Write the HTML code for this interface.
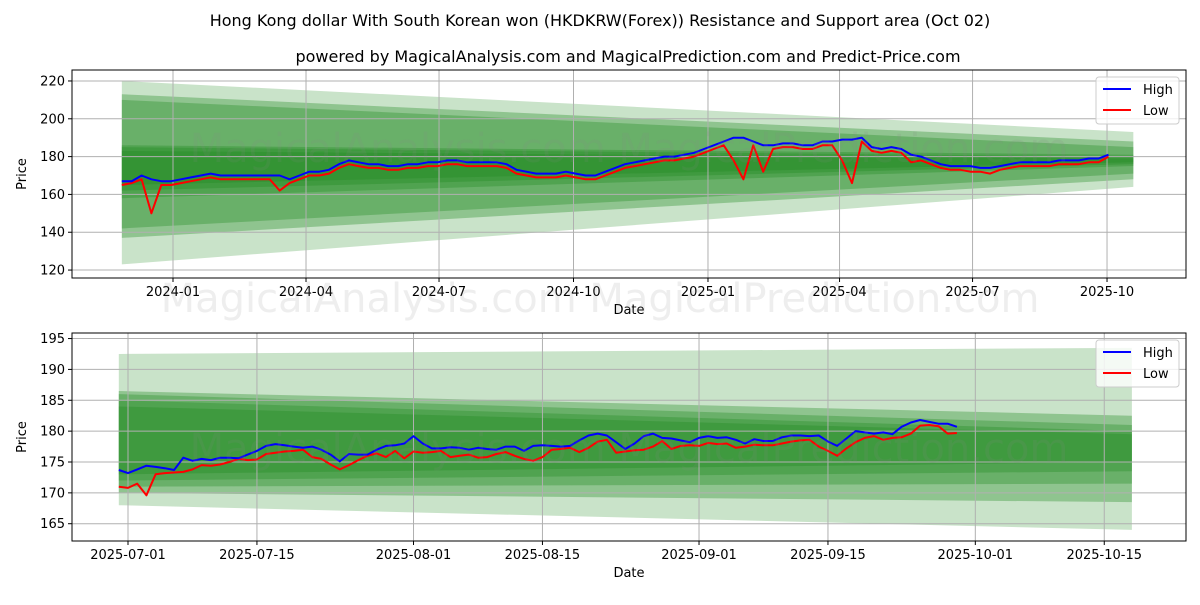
<!DOCTYPE html>
<html><head><meta charset="utf-8"><style>
body{margin:0;background:#fff;font-family:"Liberation Sans","DejaVu Sans",sans-serif}
svg text{font-family:"DejaVu Sans","Liberation Sans",sans-serif}
</style></head><body>
<svg id="c" width="1200" height="600" xmlns="http://www.w3.org/2000/svg">
<text x="600" y="26" text-anchor="middle" font-size="16">Hong Kong dollar With South Korean won (HKDKRW(Forex)) Resistance and Support area (Oct 02)</text>
<text x="628" y="62" text-anchor="middle" font-size="16">powered by MagicalAnalysis.com and MagicalPrediction.com and Predict-Price.com</text>
</svg>
<script>
const topStart=Date.UTC(2023,10,27), topStepDays=6.75;
const topHigh=[167,167,170,168,167,167,168,169,170,171,170,170,170,170,170,170,170,168,170,172,172,173,176,178,177,176,176,175,175,176,176,177,177,178,178,177,177,177,177,176,173,172,171,171,171,172,171,170,170,172,174,176,177,178,179,180,180,181,182,184,186,188,190,190,188,186,186,187,187,186,186,188,188,189,189,190,185,184,185,184,181,180,178,176,175,175,175,174,174,175,176,177,177,177,177,178,178,178,179,179,181];
const topLow=[165,166,168,150,165,165,166,167,168,169,168,168,168,168,168,168,162,166,168,170,170,171,174,176,175,174,174,173,173,174,174,175,175,176,176,175,175,175,175,174,171,170,169,169,169,170,169,168,168,170,172,174,175,176,177,178,178,179,180,182,184,186,178,168,186,172,184,185,185,184,184,186,186,178,166,188,183,182,183,182,177,178,176,174,173,173,172,172,171,173,174,175,175,175,175,176,176,176,177,177,180];
const topYTicks=[120,140,160,180,200,220];
const topXTicks=["2024-01","2024-04","2024-07","2024-10","2025-01","2025-04","2025-07","2025-10"];
const topBands=[[220,123,193,164],[213,137,188,168],[210,142,185,171],[186,158,181,175],[185,162,180,176],[183,165,179,177]];
const botStart=Date.UTC(2025,5,30);
const botHigh=[173.7,173.2,173.8,174.4,174.2,174.0,173.7,175.7,175.2,175.5,175.3,175.7,175.7,175.6,176.2,176.8,177.6,177.9,177.7,177.5,177.3,177.5,177.0,176.2,175.1,176.3,176.2,176.2,177.0,177.6,177.7,178.0,179.2,178.0,177.2,177.2,177.4,177.3,177.0,177.3,177.1,177.0,177.5,177.5,176.8,177.6,177.7,177.6,177.5,177.6,178.5,179.3,179.6,179.3,178.2,177.1,178.0,179.2,179.6,178.9,178.8,178.5,178.2,178.9,179.2,178.9,179.0,178.6,178.0,178.7,178.4,178.4,179.0,179.3,179.3,179.2,179.3,178.3,177.6,178.8,180.0,179.8,179.6,179.8,179.5,180.7,181.4,181.8,181.5,181.2,181.2,180.7];
const botLow=[171.0,170.8,171.5,169.6,173.0,173.2,173.3,173.4,173.8,174.5,174.4,174.6,175.0,175.5,175.3,175.4,176.3,176.5,176.7,176.8,177.0,175.8,175.5,174.6,173.8,174.5,175.3,176.0,176.4,175.8,176.8,175.6,176.7,176.5,176.6,176.8,175.8,176.0,176.2,175.7,175.8,176.3,176.6,176.0,175.5,175.2,175.8,177.0,177.1,177.3,176.6,177.3,178.3,178.6,176.5,176.7,176.9,177.0,177.5,178.4,177.1,177.6,177.7,177.6,178.1,177.9,178.0,177.3,177.5,177.8,177.7,177.7,178.0,178.3,178.5,178.6,177.5,176.8,176.0,177.2,178.2,178.9,179.2,178.6,178.9,179.0,179.6,180.9,181.0,180.8,179.6,179.7];
const botYTicks=[165,170,175,180,185,190,195];
const botXTicks=["2025-07-01","2025-07-15","2025-08-01","2025-08-15","2025-09-01","2025-09-15","2025-10-01","2025-10-15"];
const botBands=[[192.5,168,193.5,164],[186.5,170,182.5,168.5],[186,171,181,171.5],[185,172,180,173.5],[184,173,179.5,175]];

const NS="http://www.w3.org/2000/svg", svg=document.getElementById('c');
function mk(t,a,p){const e=document.createElementNS(NS,t);for(const k in a)e.setAttribute(k,a[k]);(p||svg).appendChild(e);return e;}
const DAY=86400000;
function panel(cfg){
  const {L,R,T,B,ymin,ymax,x0,dpx,dateMin}=cfg;
  const X=d=>x0+(d-dateMin)/DAY*dpx, Y=v=>B-(v-ymin)/(ymax-ymin)*(B-T);
  const g=mk('g',{});
  
  
  const bx0=X(cfg.bandStart), bx1=X(cfg.bandEnd);
  cfg.bands.forEach((b,i)=>{
    const p=mk('polygon',{points:`${bx0},${Y(b[0])} ${bx1},${Y(b[2])} ${bx1},${Y(b[3])} ${bx0},${Y(b[1])}`,fill:'#1f8a1f','fill-opacity':i==0?0.24:0.34},g);
    
    
  });
  cfg.yticks.forEach(v=>{
    mk('line',{x1:L,x2:R,y1:Y(v),y2:Y(v),stroke:'#b0b0b0','stroke-width':1},g);
    mk('line',{x1:L-4,x2:L,y1:Y(v),y2:Y(v),stroke:'#000'},g);
    const t=mk('text',{x:L-7,y:Y(v)+4.5,'text-anchor':'end','font-size':13},g);t.textContent=v;
    
    
  });
  cfg.xticks.forEach(s=>{
    const p=s.split('-').map(Number);const d=Date.UTC(p[0],p[1]-1,p[2]||1);const x=X(d);
    mk('line',{x1:x,x2:x,y1:T,y2:B,stroke:'#b0b0b0','stroke-width':1},g);
    mk('line',{x1:x,x2:x,y1:B,y2:B+4,stroke:'#000'},g);
    const t=mk('text',{x:x,y:B+18,'text-anchor':'middle','font-size':13},g);t.textContent=s;
    
    
  });
  [[cfg.low,'#ff0000','low-line'],[cfg.high,'#0000ff','high-line']].forEach(([arr,c,n])=>{
    const pts=arr.map((v,i)=>`${X(cfg.start+i*cfg.step*DAY).toFixed(1)},${Y(v).toFixed(1)}`).join(' ');
    const pl=mk('polyline',{points:pts,fill:'none',stroke:c,'stroke-width':2,'stroke-linejoin':'round'},g);
    
    
  });
  const w=mk('text',{x:(L+R)/2,y:cfg.wmY,'text-anchor':'middle','font-size':40,fill:'#888','fill-opacity':0.14},g);
  w.textContent='MagicalAnalysis.com    MagicalPrediction.com';
  
  
  mk('rect',{x:L,y:T,width:R-L,height:B-T,fill:'none',stroke:'#000','stroke-width':1},g);
  const xl=mk('text',{x:(L+R)/2,y:B+36,'text-anchor':'middle','font-size':13},g);xl.textContent='Date';
  
  
  const yl=mk('text',{x:0,y:0,'text-anchor':'middle','font-size':13,transform:`translate(26,${(T+B)/2}) rotate(-90)`},g);yl.textContent='Price';
  
  
  const lg=mk('g',{},g);
  
  
  mk('rect',{x:R-90,y:T+7,width:83,height:47,rx:3,fill:'#fff','fill-opacity':0.8,stroke:'#ccc'},lg);
  mk('line',{x1:R-83,x2:R-55,y1:T+19,y2:T+19,stroke:'#0000ff','stroke-width':2},lg);
  mk('line',{x1:R-83,x2:R-55,y1:T+40,y2:T+40,stroke:'#ff0000','stroke-width':2},lg);
  let t=mk('text',{x:R-43,y:T+24,'font-size':13},lg);t.textContent='High';
  t=mk('text',{x:R-43,y:T+45,'font-size':13},lg);t.textContent='Low';
}
panel({name:'top-panel',L:72,R:1186,T:70,B:278,ymin:115.8,ymax:225.8,x0:173,dpx:1.4617,dateMin:Date.UTC(2024,0,1),
  bandStart:topStart,bandEnd:Date.UTC(2025,9,19),bands:topBands,yticks:topYTicks,xticks:topXTicks,high:topHigh,low:topLow,start:topStart,step:topStepDays,wmY:162});
panel({name:'bottom-panel',L:72,R:1186,T:333,B:541,ymin:162.2,ymax:195.9,x0:128,dpx:9.21,dateMin:Date.UTC(2025,6,1),
  bandStart:botStart,bandEnd:Date.UTC(2025,9,18),bands:botBands,yticks:botYTicks,xticks:botXTicks,high:botHigh,low:botLow,start:botStart,step:(Date.UTC(2025,8,29)-botStart)/DAY/(botHigh.length-1),wmY:462});
const w2=mk('text',{x:600,y:312,'text-anchor':'middle','font-size':40,fill:'#888','fill-opacity':0.14});
w2.textContent='MagicalAnalysis.com    MagicalPrediction.com';


</script>
</body></html>
